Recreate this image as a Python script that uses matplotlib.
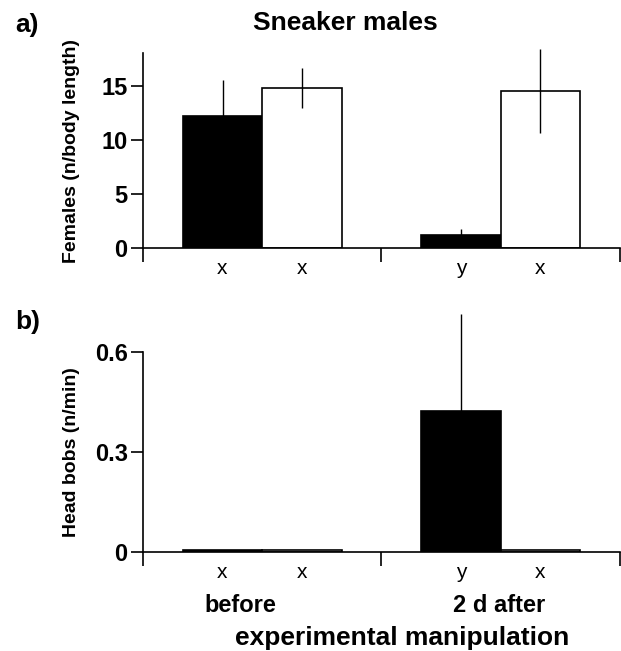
import matplotlib
matplotlib.use("Agg")
import matplotlib.pyplot as plt
import numpy as np

plt.rcParams['font.family'] = ['Liberation Sans', 'DejaVu Sans']

# Data
positions = [1, 2, 4, 5]
bar_colors = ['black', 'white', 'black', 'white']
letters = ['x', 'x', 'y', 'x']
letters_b = ['x', 'x', 'y', 'x']

females = [12.2, 14.8, 1.17, 14.5]
females_err = [3.35, 1.85, 0.55, 3.9]

headbobs = [0.008, 0.008, 0.424, 0.008]
headbobs_err = [0.0, 0.0, 0.29, 0.0]

group_labels = ['before', '2 d after']
group_label_x = [1.23, 4.48]

fig = plt.figure(figsize=(6.21, 6.51), dpi=100)

def style(ax, ylim, yticks, yticklabels, ylabel, xlabels):
    ax.set_xlim(0, 6)
    ax.set_ylim(*ylim)
    for s in ['top', 'right']:
        ax.spines[s].set_visible(False)
    for s in ['left', 'bottom']:
        ax.spines[s].set_linewidth(1.2)
    ax.set_xticks([0, 3, 6])
    ax.set_xticklabels([])
    ax.tick_params(axis='x', direction='out', length=10, width=1.2)
    ax.set_yticks(yticks)
    ax.set_yticklabels(yticklabels, fontsize=17, fontweight='bold')
    ax.tick_params(axis='y', direction='out', length=9, width=1.2, pad=2)
    ax.set_ylabel(ylabel, fontsize=14, fontweight='bold')
    ax.yaxis.set_label_coords(-0.132, 0.5)
    for p, t in zip(positions, xlabels):
        ax.annotate(t, xy=(p, 0), xycoords=('data', 'axes fraction'),
                    xytext=(0, -14.5), textcoords='offset points',
                    ha='center', va='center', fontsize=15)

# Panel a
axa = fig.add_axes([0.2303, 0.619, 0.768, 0.2995])
axa.bar(positions, females, width=1.0, color=bar_colors, edgecolor='black', linewidth=1.2, zorder=2)
axa.errorbar(positions, females, yerr=females_err, fmt='none', ecolor='black',
             elinewidth=1.0, capsize=0, zorder=3, clip_on=False)
style(axa, (0, 18), [0, 5, 10, 15], ['0', '5', '10', '15'],
      'Females (n/body length)', letters)

# Panel b
axb = fig.add_axes([0.2303, 0.1516, 0.768, 0.3072])
axb.bar(positions, headbobs, width=1.0, color=bar_colors, edgecolor='black', linewidth=1.2, zorder=2)
axb.errorbar([positions[2]], [headbobs[2]], yerr=[[0], [headbobs_err[2]]], fmt='none', ecolor='black',
             elinewidth=1.0, capsize=0, zorder=3, clip_on=False)
style(axb, (0, 0.6), [0, 0.3, 0.6], ['0', '0.3', '0.6'],
      'Head bobs (n/min)', letters_b)

for x, t in zip(group_label_x, group_labels):
    axb.annotate(t, xy=(x, 0), xycoords=('data', 'axes fraction'),
                 xytext=(0, -38), textcoords='offset points',
                 ha='center', va='center', fontsize=17, fontweight='bold')

fig.text(402 / 621, 1 - 638 / 651, 'experimental manipulation', ha='center', va='center',
         fontsize=19, fontweight='bold')
fig.text(345 / 621, 1 - 23 / 651, 'Sneaker males', ha='center', va='center',
         fontsize=19, fontweight='bold')
fig.text(15 / 621, 1 - 25 / 651, 'a)', ha='left', va='center', fontsize=19, fontweight='bold')
fig.text(15 / 621, 1 - 322 / 651, 'b)', ha='left', va='center', fontsize=19, fontweight='bold')

fig.savefig('out.png', dpi=100)
